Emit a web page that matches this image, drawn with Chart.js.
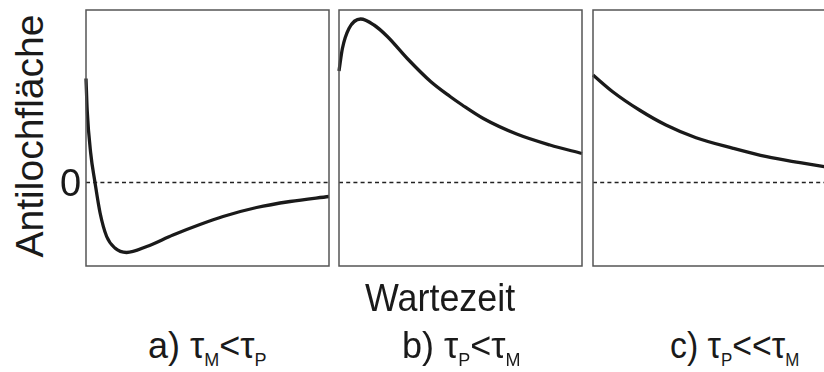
<!DOCTYPE html>
<html>
<head>
<meta charset="utf-8">
<script src="https://cdn.jsdelivr.net/npm/chart.js@4"></script>
<style>
  html, body { margin: 0; padding: 0; background: #fff; }
  body { width: 824px; height: 372px; position: relative; overflow: hidden;
         font-family: "Liberation Sans", Arial, sans-serif; color: #1a1a1a; }
  .panel { position: absolute; top: 4px; width: 255px; height: 268px; }
  .txt { position: absolute; white-space: nowrap; }
  .ylab { left: 29px; top: 136px; font-size: 39px; line-height: 39px;
          transform: translate(-50%, -50%) rotate(-90deg); }
  .zero { left: 60px; font-size: 38px; line-height: 38px; }
  .xlab { left: 365px; top: 278px; font-size: 39px; line-height: 39px;
          transform-origin: left top; transform: scaleX(0.92); }
  .case { top: 328px; font-size: 36px; line-height: 36px;
          transform-origin: left top; }
  .case sub { font-size: 18px; vertical-align: -8px; line-height: 0; }
</style>
</head>
<body>
<div class="panel" style="left:80px"><canvas id="chartA"></canvas></div>
<div class="panel" style="left:333px"><canvas id="chartB"></canvas></div>
<div class="panel" style="left:587px"><canvas id="chartC"></canvas></div>

<div class="txt ylab">Antilochfläche</div>
<div class="txt zero" id="zeroLabel">0</div>
<div class="txt xlab">Wartezeit</div>
<div class="txt case" style="left:148px">a) τ<sub>M</sub>&lt;τ<sub>P</sub></div>
<div class="txt case" style="left:402px">b) τ<sub>P</sub>&lt;τ<sub>M</sub></div>
<div class="txt case" style="left:670px; transform: scaleX(0.94)">c) τ<sub>P</sub>&lt;&lt;τ<sub>M</sub></div>

<script>
// waiting time (arbitrary units, 0..10 per panel) and antihole area
const timeA = [0, 0.05, 0.19, 0.37, 0.58, 0.85, 1.19, 1.67, 2.5, 3.58, 4.69, 5.64, 7.02, 8.4, 10];
const areaA = [1.04, 0.72, 0.3, 0.0, -0.305, -0.54, -0.655, -0.7, -0.64, -0.525, -0.42, -0.34, -0.25, -0.19, -0.14];

const timeB = [0, 0.14, 0.41, 0.89, 1.44, 1.99, 2.81, 3.77, 4.57, 5.07, 5.94, 7.31, 8.68, 10];
const areaB = [1.115, 1.34, 1.54, 1.635, 1.575, 1.46, 1.24, 1.01, 0.86, 0.775, 0.64, 0.485, 0.375, 0.29];

const timeC = [0, 0.81, 1.91, 3.0, 4.24, 5.77, 7.15, 8.52, 9.51, 10];
const areaC = [1.075, 0.908, 0.725, 0.575, 0.448, 0.342, 0.258, 0.198, 0.158, 0.14];

const timeRange = [0, 10];
const areaRange = [-0.835, 1.725];
const zeroLevel = 0;

// frame around each plot area
const frame = {
  id: "frame",
  afterDraw(chart) {
    const { ctx, chartArea: a } = chart;
    ctx.save();
    ctx.strokeStyle = "#555";
    ctx.lineWidth = 1.5;
    ctx.strokeRect(a.left, a.top, a.right - a.left, a.bottom - a.top);
    ctx.restore();
  },
};

function makePanel(id, xs, ys) {
  const ctx = document.getElementById(id).getContext("2d");
  return new Chart(ctx, {
    type: "line",
    data: {
      datasets: [
        {
          data: xs.map((x, i) => ({ x: x, y: ys[i] })),
          borderColor: "#1a1a1a",
          borderWidth: 3.3,
          pointRadius: 0,
          cubicInterpolationMode: "monotone",
          clip: 4,
          order: 0,
        },
        {
          data: timeRange.map((x) => ({ x: x, y: zeroLevel })),
          borderColor: "#222",
          borderWidth: 1.3,
          borderDash: [4, 3.2],
          pointRadius: 0,
          order: 1,
        },
      ],
    },
    options: {
      responsive: true,
      maintainAspectRatio: false,
      animation: false,
      layout: { padding: 6 },
      plugins: { legend: { display: false }, tooltip: { enabled: false } },
      scales: {
        x: { type: "linear", min: timeRange[0], max: timeRange[1], display: false },
        y: { min: areaRange[0], max: areaRange[1], display: false },
      },
    },
    plugins: [frame],
  });
}

const chartA = makePanel("chartA", timeA, areaA);
makePanel("chartB", timeB, areaB);
makePanel("chartC", timeC, areaC);

// put the "0" label on the zero level of the first panel
const zeroY = 4 + chartA.scales.y.getPixelForValue(zeroLevel);
document.getElementById("zeroLabel").style.top = (zeroY - 19) + "px";
</script>
</body>
</html>
